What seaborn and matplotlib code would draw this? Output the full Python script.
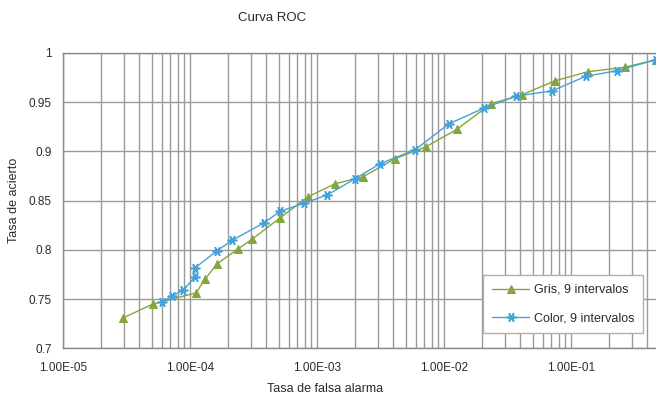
import numpy as np
import matplotlib
matplotlib.use("Agg")
import matplotlib.pyplot as plt
import seaborn as sns
from matplotlib.ticker import LogLocator, FuncFormatter, MultipleLocator, NullFormatter

# ---- data ----
gris_x = [2.97e-5, 5.12e-5, 1.115e-4, 1.31e-4, 1.63e-4, 2.39e-4, 3.08e-4, 5.11e-4,
          8.5e-4, 1.385e-3, 2.30e-3, 4.11e-3, 7.22e-3, 1.266e-2, 2.345e-2, 4.11e-2,
          7.48e-2, 0.136, 0.266, 0.467]
gris_y = [0.731, 0.7452, 0.7564, 0.7701, 0.7859, 0.8011, 0.8108, 0.8326,
          0.854, 0.8672, 0.8743, 0.8926, 0.9048, 0.9226, 0.9485, 0.9576,
          0.9718, 0.981, 0.9856, 0.9932]

color_x = [6.02e-5, 7.22e-5, 8.81e-5, 1.095e-4, 1.095e-4, 1.63e-4, 2.14e-4, 3.83e-4,
           5.11e-4, 7.90e-4, 1.21e-3, 1.99e-3, 3.13e-3, 5.91e-3, 1.095e-2, 2.065e-2,
           3.69e-2, 7.15e-2, 0.131, 0.230, 0.467]
color_y = [0.7467, 0.7534, 0.7589, 0.7727, 0.7818, 0.7991, 0.8098, 0.8275,
           0.8392, 0.8474, 0.856, 0.8723, 0.8875, 0.9017, 0.9281, 0.9441,
           0.9561, 0.9617, 0.9764, 0.982, 0.9932]

series_labels = ["Gris, 9 intervalos", "Color, 9 intervalos"]
x_range = [1e-5, 0.467]
y_range = [0.7, 1.0]
title = "Curva ROC"
xlabel = "Tasa de falsa alarma"
ylabel = "Tasa de acierto"

# ---- style ----
sns.set_theme(style="white")
plt.rcParams["font.family"] = ["Liberation Sans", "DejaVu Sans"]

GREEN = "#84a63b"
BLUE = "#45a2d8"
GRID = "#9a9a9a"
TEXT = "#2a2a2a"

fig = plt.figure(figsize=(6.56, 3.97), dpi=100)
ax = fig.add_axes([0.096, 0.1222, 0.904, 0.7443])

sns.lineplot(x=gris_x, y=gris_y, ax=ax, color=GREEN, marker="^", markersize=6,
             markeredgecolor=GREEN, linewidth=1.0, estimator=None, sort=False,
             label=series_labels[0], zorder=3, clip_on=False)
sns.lineplot(x=color_x, y=color_y, ax=ax, color=BLUE, marker=(6, 2, 90), markersize=7,
             markeredgecolor=BLUE, markeredgewidth=1.2, linewidth=1.0, estimator=None,
             sort=False, label=series_labels[1], zorder=3, clip_on=False)

ax.set_xscale("log")
ax.set_xlim(*x_range)
ax.set_ylim(*y_range)

ax.xaxis.set_major_locator(LogLocator(base=10, numticks=12))
ax.xaxis.set_minor_locator(LogLocator(base=10, subs=np.arange(2, 10), numticks=60))
ax.xaxis.set_minor_formatter(NullFormatter())
ax.xaxis.set_major_formatter(FuncFormatter(lambda v, p: f"{v:.2E}"))
ax.yaxis.set_major_locator(MultipleLocator(0.05))
ax.yaxis.set_major_formatter(FuncFormatter(lambda v, p: f"{v:.2f}".rstrip("0").rstrip(".")))

ax.grid(which="both", axis="x", color=GRID, linewidth=1.0)
ax.grid(which="major", axis="y", color=GRID, linewidth=1.0)
ax.set_axisbelow(True)

ax.tick_params(axis="both", which="both", length=0, labelsize=8.5, colors=TEXT)
ax.tick_params(axis="x", pad=10)
ax.tick_params(axis="y", pad=8)

for s in ax.spines.values():
    s.set_color("#8a8a8a")
    s.set_linewidth(1.0)
ax.spines["right"].set_visible(False)

ax.set_xlabel(xlabel, fontsize=9, color=TEXT)
ax.xaxis.set_label_coords((325 - 63) / 593, -0.118)
ax.set_ylabel(ylabel, fontsize=9, color=TEXT)
ax.yaxis.set_label_coords(-0.072, 0.5)
fig.text(0.415, 0.955, title, ha="center", va="center", fontsize=9.5, color=TEXT)

leg = ax.legend(loc="lower right", bbox_to_anchor=((643 - 63) / 593, 0.0525), frameon=True,
                fancybox=False, edgecolor="#b0b0b0", fontsize=9, labelspacing=1.3,
                handlelength=3.0, handletextpad=0.35, borderpad=0.7,
                borderaxespad=0.0, framealpha=1)
leg.get_frame().set_linewidth(1.0)
for t in leg.get_texts():
    t.set_color(TEXT)

fig.savefig("out.png", dpi=100)
